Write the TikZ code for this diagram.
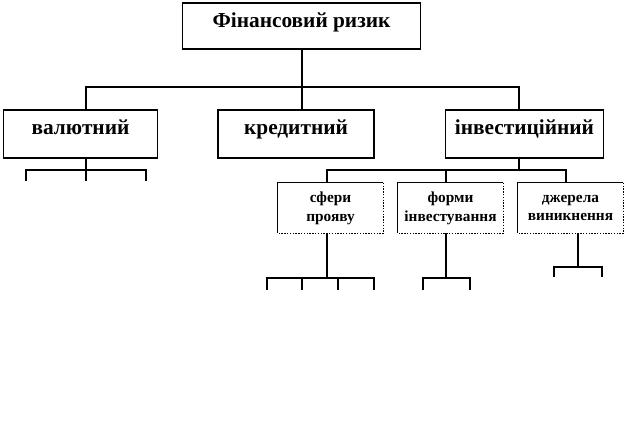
\documentclass[tikz,border=0pt]{standalone}
\usepackage{fontspec}
\setmainfont{Liberation Serif}
\usetikzlibrary{positioning}

\tikzset{
  riskbox/.style={draw, line width=0.9pt, inner sep=0pt, align=center,
    text height=11pt, text depth=10.4pt,
    font=\fontsize{16}{18}\selectfont\bfseries},
  subbox/.style={inner sep=0pt, align=center,
    font=\fontsize{11.5}{14}\selectfont\bfseries},
  link/.style={line width=0.8pt}
}

\begin{document}
\begin{tikzpicture}[x=0.75pt, y=-0.75pt]
  \useasboundingbox (0,0) rectangle (626,437);

  % верхній рівень
  \node[riskbox, text depth=9pt, minimum width=179pt, minimum height=34.5pt] (top) at (301.5,26) {Фінансовий ризик};

  % види ризику
  \node[riskbox, minimum width=116pt, minimum height=36pt] (val)  at (80.5,134) {валютний};
  \node[riskbox, minimum width=117pt, minimum height=36pt] (kred) at (296,134)  {кредитний};
  \node[riskbox, minimum width=118pt, minimum height=36pt] (inv)  at (524.5,134) {інвестиційний};

  % ознаки інвестиційного ризику
  \node[subbox, minimum width=79pt, minimum height=37.5pt] (sf)   at (330.5,208) {сфери\\прояву};
  \node[subbox, minimum width=79pt, minimum height=37.5pt] (form) at (450.5,208) {форми\\інвестування};
  \node[subbox, minimum width=79pt, minimum height=37.5pt] (dzh)  at (570.5,208) {джерела\\виникнення};
  \foreach \n in {sf,form,dzh} {
    \draw[line width=0.75pt] (\n.south west) -- (\n.north west) -- (\n.north east);
    \draw[line width=1.1pt, densely dotted] (\n.north east) -- (\n.south east) -- (\n.south west);
  }

  % шина під верхнім блоком
  \coordinate (bus) at (302,87);
  \coordinate (bv) at (86,87);
  \coordinate (bi) at (519,87);
  \draw[link] (top.south -| bus) -- (kred.north -| bus);
  \draw[link] (val.north -| bv) -- (bv) -- (bi) -- (inv.north -| bi);

  % під валютним
  \coordinate (vb) at (86,170);
  \coordinate (v1) at (26,181);
  \coordinate (v2) at (86,181);
  \coordinate (v3) at (146,181);
  \draw[link] (val.south -| vb) -- (v2);
  \draw[link] (v1) |- (vb) -| (v3);

  % під інвестиційним
  \coordinate (ib) at (519,170);
  \coordinate (s0) at (327,170);
  \coordinate (f0) at (446,170);
  \coordinate (d0) at (566,170);
  \draw[link] (inv.south -| ib) -- (ib);
  \draw[link] (sf.north -| s0) -- (s0) -- (d0) -- (dzh.north -| d0);
  \draw[link] (form.north -| f0) -- (f0);

  % під сферами прояву
  \coordinate (sb) at (327,278);
  \coordinate (s1) at (267,290);
  \coordinate (s2) at (302,290);
  \coordinate (s3) at (338,290);
  \coordinate (s4) at (374,290);
  \draw[link] (sf.south -| sb) -- (sb);
  \draw[link] (s1) |- (sb) -| (s4);
  \draw[link] (s2) -- (s2 |- sb);
  \draw[link] (s3) -- (s3 |- sb);

  % під формами інвестування
  \coordinate (fb) at (446,278);
  \coordinate (f1) at (423,290);
  \coordinate (f2) at (470,290);
  \draw[link] (form.south -| fb) -- (fb);
  \draw[link] (f1) |- (fb) -| (f2);

  % під джерелами виникнення
  \coordinate (db) at (578,267);
  \coordinate (d1) at (554,277);
  \coordinate (d2) at (602,277);
  \draw[link] (dzh.south -| db) -- (db);
  \draw[link] (d1) |- (db) -| (d2);
\end{tikzpicture}
\end{document}
